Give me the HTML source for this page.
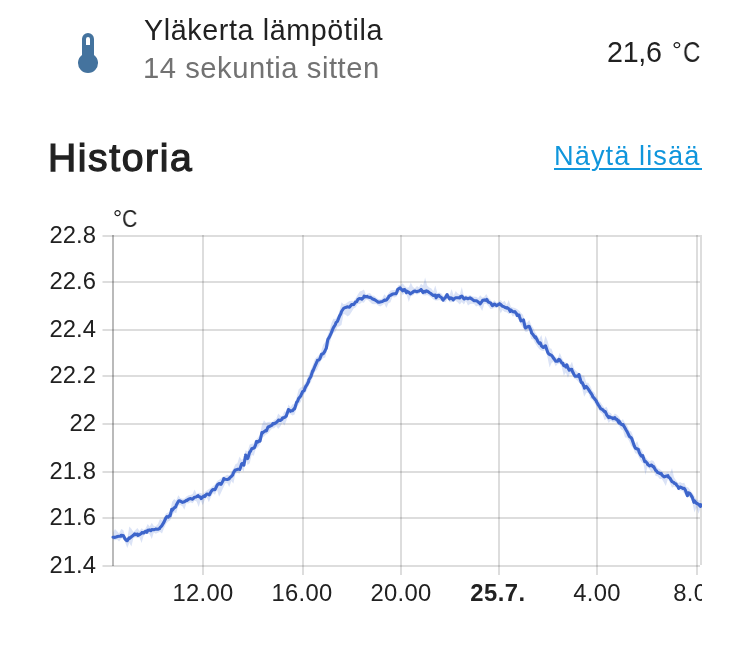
<!DOCTYPE html>
<html><head><meta charset="utf-8"><title>Historia</title>
<style>
html,body{margin:0;padding:0;background:#fff;}
body{width:749px;height:666px;position:relative;overflow:hidden;font-family:"Liberation Sans",sans-serif;color:#212121;}
.t{position:absolute;white-space:nowrap;line-height:1;will-change:transform;}
.name{left:143.6px;top:15.65px;font-size:28.7px;color:#212121;letter-spacing:0.61px;}
.sec{left:143.4px;top:54.0px;font-size:29.2px;color:#727272;letter-spacing:0.53px;}
.val{left:606.9px;top:37.9px;font-size:28.7px;color:#212121;letter-spacing:-0.28px;}
.vd{left:671.9px;top:38.0px;font-size:24.5px;color:#212121;}
.vc{left:682.8px;top:37.9px;font-size:28.7px;color:#212121;transform:scaleX(0.84);transform-origin:0 0;}
.title{left:48.0px;top:138.15px;font-size:39.1px;color:#212121;-webkit-text-stroke:1.25px #212121;letter-spacing:1.6px;}
.more{right:48.6px;top:141.9px;font-size:27.2px;color:#1096dc;letter-spacing:1.08px;text-decoration:underline;text-decoration-thickness:2px;text-underline-offset:2.7px;text-decoration-skip-ink:auto;}
.more i{position:absolute;top:26.2px;height:2px;width:3px;background:#1096dc;}
.more i.l{left:-2.6px}.more i.r{right:-1.6px}
.yl{font-size:23.8px;text-align:right;left:0;width:95.9px;letter-spacing:0px;}
.xl{font-size:23.8px;transform:translateX(-50%);top:580.6px;letter-spacing:0.25px;}
.ud{left:113.1px;top:207.1px;font-size:22.8px;}
.uc{left:122.0px;top:207.2px;font-size:23.8px;transform:scaleX(0.89);transform-origin:0 0;}
#clip{position:absolute;left:0;top:0;width:702px;height:666px;overflow:hidden;}
</style></head><body>

<svg width="48" height="48" viewBox="0 0 24 24" style="position:absolute;left:64px;top:29px"><path fill="#44739e" d="M15 13V5A3 3 0 0 0 9 5V13A5 5 0 1 0 15 13M12 4A1 1 0 0 1 13 5V8H11V5A1 1 0 0 1 12 4Z"/></svg>
<div class="t name">Yläkerta lämpötila</div>
<div class="t sec">14 sekuntia sitten</div>
<div class="t val">21,6</div><div class="t vd">°</div><div class="t vc">C</div>
<div class="t title">Historia</div>
<div class="t more">Näytä lisää<i class="r"></i></div>
<svg width="749" height="666" viewBox="0 0 749 666" style="position:absolute;left:0;top:0">
<defs><clipPath id="cv"><rect x="0" y="200" width="702" height="440"/></clipPath></defs>
<g clip-path="url(#cv)">
<rect x="102.5" y="235" width="597.5" height="2" fill="rgba(0,0,0,0.135)"/>
<rect x="102.5" y="281" width="597.5" height="2" fill="rgba(0,0,0,0.135)"/>
<rect x="102.5" y="329" width="597.5" height="2" fill="rgba(0,0,0,0.135)"/>
<rect x="102.5" y="375" width="597.5" height="2" fill="rgba(0,0,0,0.135)"/>
<rect x="102.5" y="423" width="597.5" height="2" fill="rgba(0,0,0,0.135)"/>
<rect x="102.5" y="471" width="597.5" height="2" fill="rgba(0,0,0,0.135)"/>
<rect x="102.5" y="517" width="597.5" height="2" fill="rgba(0,0,0,0.135)"/>
<rect x="102.5" y="565" width="597.5" height="2" fill="rgba(0,0,0,0.135)"/>
<rect x="202" y="235" width="2" height="340" fill="rgba(0,0,0,0.135)"/>
<rect x="302" y="235" width="2" height="340" fill="rgba(0,0,0,0.135)"/>
<rect x="400" y="235" width="2" height="340" fill="rgba(0,0,0,0.135)"/>
<rect x="498" y="235" width="2" height="340" fill="rgba(0,0,0,0.135)"/>
<rect x="596" y="235" width="2" height="340" fill="rgba(0,0,0,0.135)"/>
<rect x="696" y="235" width="2" height="340" fill="rgba(0,0,0,0.135)"/>
<rect x="700" y="235" width="2" height="330" fill="rgba(0,0,0,0.135)"/>
<rect x="112" y="235" width="2" height="331" fill="rgba(0,0,0,0.27)"/>
<path d="M113.0 532.5 L115.0 529.0 L117.1 531.2 L119.1 533.5 L121.2 529.1 L123.2 530.1 L125.2 535.8 L127.3 538.2 L129.3 526.6 L131.4 528.8 L133.4 532.1 L135.4 530.0 L137.5 527.9 L139.5 531.1 L141.6 528.3 L143.6 529.7 L145.6 528.4 L147.7 523.9 L149.7 526.6 L151.8 522.8 L153.8 525.9 L155.8 526.3 L157.9 524.0 L159.9 519.1 L162.0 520.1 L164.0 517.5 L166.0 513.5 L168.1 512.6 L170.1 511.5 L172.2 501.5 L174.2 499.1 L176.2 500.5 L178.3 495.3 L180.3 498.0 L182.4 498.7 L184.4 498.5 L186.4 496.4 L188.5 495.2 L190.5 494.9 L192.6 494.1 L194.6 489.6 L196.6 494.0 L198.7 492.7 L200.7 493.0 L202.8 494.1 L204.8 491.9 L206.8 490.5 L208.9 489.1 L210.9 488.1 L213.0 485.9 L215.0 484.6 L217.0 481.2 L219.1 479.8 L221.1 478.5 L223.2 476.5 L225.2 475.9 L227.2 474.7 L229.3 475.4 L231.3 472.1 L233.4 468.4 L235.4 464.3 L237.4 463.2 L239.5 456.5 L241.5 459.8 L243.6 458.7 L245.6 450.2 L247.6 451.4 L249.7 444.5 L251.7 443.7 L253.8 443.5 L255.8 439.7 L257.8 437.7 L259.9 435.3 L261.9 425.1 L264.0 420.3 L266.0 422.8 L268.0 422.1 L270.1 421.8 L272.1 422.0 L274.2 419.8 L276.2 419.0 L278.2 413.4 L280.3 415.7 L282.3 415.9 L284.4 411.3 L286.4 411.9 L288.4 404.4 L290.5 407.2 L292.5 404.2 L294.6 404.2 L296.6 397.5 L298.6 389.4 L300.7 387.5 L302.7 386.5 L304.8 383.4 L306.8 379.4 L308.8 374.5 L310.9 369.5 L312.9 364.8 L315.0 358.7 L317.0 356.9 L319.0 355.1 L321.1 351.5 L323.1 344.8 L325.2 342.1 L327.2 336.4 L329.2 331.2 L331.3 323.5 L333.3 318.7 L335.4 319.0 L337.4 316.4 L339.4 311.4 L341.5 302.2 L343.5 304.3 L345.6 303.8 L347.6 302.3 L349.6 300.9 L351.7 300.7 L353.7 301.1 L355.8 298.0 L357.8 294.4 L359.8 291.4 L361.9 290.7 L363.9 289.4 L366.0 294.4 L368.0 293.5 L370.0 293.1 L372.1 295.6 L374.1 295.8 L376.2 297.4 L378.2 299.0 L380.2 299.2 L382.3 298.5 L384.3 294.3 L386.4 296.5 L388.4 293.6 L390.4 290.4 L392.5 290.1 L394.5 290.1 L396.6 289.0 L398.6 285.1 L400.6 285.0 L402.7 283.3 L404.7 285.9 L406.8 287.7 L408.8 287.2 L410.8 282.4 L412.9 287.1 L414.9 288.2 L417.0 286.0 L419.0 287.6 L421.0 283.8 L423.1 285.6 L425.1 277.4 L427.2 285.4 L429.2 287.4 L431.2 288.3 L433.3 291.3 L435.3 285.6 L437.4 293.2 L439.4 292.4 L441.4 293.5 L443.5 295.9 L445.5 294.0 L447.6 293.3 L449.6 295.0 L451.6 289.0 L453.7 295.6 L455.7 291.0 L457.8 293.4 L459.8 294.6 L461.8 287.1 L463.9 296.1 L465.9 295.2 L468.0 296.0 L470.0 295.1 L472.0 296.2 L474.1 296.8 L476.1 296.8 L478.2 298.1 L480.2 295.3 L482.2 297.4 L484.3 296.8 L486.3 293.9 L488.4 297.8 L490.4 299.6 L492.4 302.2 L494.5 300.2 L496.5 302.5 L498.6 301.8 L500.6 299.9 L502.6 302.2 L504.7 300.7 L506.7 304.8 L508.8 300.1 L510.8 306.8 L512.8 307.4 L514.9 307.9 L516.9 309.0 L519.0 310.4 L521.0 313.0 L523.0 314.8 L525.1 322.5 L527.1 322.8 L529.2 320.1 L531.2 325.1 L533.2 327.8 L535.3 332.5 L537.3 335.5 L539.4 338.7 L541.4 335.1 L543.4 344.0 L545.5 335.8 L547.5 340.8 L549.6 348.3 L551.6 348.7 L553.6 354.7 L555.7 357.1 L557.7 358.3 L559.8 352.7 L561.8 357.8 L563.8 361.7 L565.9 362.6 L567.9 363.5 L570.0 365.5 L572.0 361.8 L574.0 368.7 L576.1 371.0 L578.1 372.5 L580.2 373.2 L582.2 375.5 L584.2 375.7 L586.3 382.8 L588.3 382.8 L590.4 386.3 L592.4 390.8 L594.4 392.6 L596.5 396.4 L598.5 400.6 L600.6 402.4 L602.6 405.6 L604.6 407.9 L606.7 406.7 L608.7 412.2 L610.8 413.0 L612.8 415.9 L614.8 413.6 L616.9 414.7 L618.9 416.7 L621.0 420.4 L623.0 419.2 L625.0 423.0 L627.1 425.2 L629.1 430.6 L631.2 431.4 L633.2 436.3 L635.2 443.6 L637.3 441.2 L639.3 447.5 L641.4 449.2 L643.4 453.4 L645.4 456.9 L647.5 459.4 L649.5 461.3 L651.6 460.3 L653.6 461.1 L655.6 464.7 L657.7 468.2 L659.7 468.9 L661.8 471.1 L663.8 473.1 L665.8 473.1 L667.9 472.3 L669.9 473.8 L672.0 468.0 L674.0 477.2 L676.0 480.2 L678.1 483.0 L680.1 482.1 L682.2 483.2 L684.2 482.7 L686.2 486.7 L688.3 487.6 L690.3 490.2 L692.4 493.1 L694.4 496.0 L696.4 499.2 L698.5 500.5 L700.5 500.0 L700.5 507.8 L698.5 513.8 L696.4 507.5 L694.4 512.5 L692.4 502.7 L690.3 497.8 L688.3 497.1 L686.2 496.0 L684.2 493.6 L682.2 490.8 L680.1 490.5 L678.1 490.1 L676.0 487.5 L674.0 486.4 L672.0 487.8 L669.9 482.7 L667.9 479.1 L665.8 485.9 L663.8 482.3 L661.8 479.1 L659.7 478.9 L657.7 476.2 L655.6 476.0 L653.6 470.6 L651.6 471.9 L649.5 469.5 L647.5 466.9 L645.4 474.9 L643.4 463.5 L641.4 461.7 L639.3 458.2 L637.3 454.0 L635.2 453.3 L633.2 448.0 L631.2 445.9 L629.1 440.9 L627.1 437.8 L625.0 437.4 L623.0 430.6 L621.0 429.2 L618.9 425.5 L616.9 423.3 L614.8 422.1 L612.8 422.2 L610.8 420.6 L608.7 423.0 L606.7 418.7 L604.6 420.3 L602.6 413.9 L600.6 412.6 L598.5 409.4 L596.5 406.2 L594.4 403.0 L592.4 400.1 L590.4 398.5 L588.3 393.0 L586.3 392.8 L584.2 396.8 L582.2 388.9 L580.2 383.5 L578.1 381.6 L576.1 379.6 L574.0 378.5 L572.0 374.2 L570.0 373.3 L567.9 377.8 L565.9 372.4 L563.8 375.8 L561.8 367.2 L559.8 363.6 L557.7 363.9 L555.7 366.3 L553.6 361.8 L551.6 362.7 L549.6 367.6 L547.5 357.6 L545.5 349.7 L543.4 351.0 L541.4 350.6 L539.4 349.2 L537.3 346.5 L535.3 343.5 L533.2 339.5 L531.2 339.1 L529.2 330.0 L527.1 332.1 L525.1 331.7 L523.0 327.6 L521.0 324.8 L519.0 320.4 L516.9 317.8 L514.9 314.9 L512.8 316.7 L510.8 313.3 L508.8 313.9 L506.7 312.3 L504.7 312.1 L502.6 309.9 L500.6 313.5 L498.6 307.0 L496.5 308.1 L494.5 307.8 L492.4 308.7 L490.4 308.9 L488.4 305.9 L486.3 303.8 L484.3 304.0 L482.2 310.9 L480.2 307.5 L478.2 305.4 L476.1 306.6 L474.1 304.1 L472.0 303.7 L470.0 304.0 L468.0 305.5 L465.9 301.1 L463.9 304.5 L461.8 302.1 L459.8 304.4 L457.8 302.6 L455.7 300.7 L453.7 301.5 L451.6 302.2 L449.6 302.3 L447.6 299.1 L445.5 302.2 L443.5 302.0 L441.4 301.0 L439.4 300.1 L437.4 300.4 L435.3 300.6 L433.3 299.4 L431.2 297.4 L429.2 296.0 L427.2 295.1 L425.1 295.5 L423.1 295.3 L421.0 292.0 L419.0 293.7 L417.0 294.4 L414.9 293.7 L412.9 295.6 L410.8 296.3 L408.8 302.1 L406.8 295.3 L404.7 293.0 L402.7 295.2 L400.6 290.9 L398.6 292.7 L396.6 296.4 L394.5 297.5 L392.5 297.1 L390.4 302.2 L388.4 303.3 L386.4 308.0 L384.3 303.8 L382.3 305.3 L380.2 306.6 L378.2 305.4 L376.2 304.0 L374.1 304.2 L372.1 304.1 L370.0 302.0 L368.0 299.9 L366.0 299.4 L363.9 302.8 L361.9 302.2 L359.8 303.9 L357.8 304.1 L355.8 307.3 L353.7 308.4 L351.7 311.7 L349.6 315.0 L347.6 316.4 L345.6 314.7 L343.5 314.1 L341.5 325.0 L339.4 326.2 L337.4 326.9 L335.4 331.7 L333.3 333.0 L331.3 338.1 L329.2 344.9 L327.2 349.2 L325.2 357.6 L323.1 358.2 L321.1 360.3 L319.0 365.0 L317.0 370.0 L315.0 371.4 L312.9 376.7 L310.9 382.2 L308.8 385.3 L306.8 390.6 L304.8 393.4 L302.7 396.5 L300.7 401.9 L298.6 404.5 L296.6 408.1 L294.6 414.5 L292.5 415.4 L290.5 414.3 L288.4 414.3 L286.4 420.7 L284.4 425.6 L282.3 422.7 L280.3 426.5 L278.2 429.1 L276.2 426.1 L274.2 428.2 L272.1 428.5 L270.1 430.7 L268.0 433.5 L266.0 434.5 L264.0 436.6 L261.9 437.8 L259.9 444.4 L257.8 447.6 L255.8 448.8 L253.8 455.8 L251.7 454.9 L249.7 463.2 L247.6 465.1 L245.6 459.2 L243.6 472.0 L241.5 468.3 L239.5 473.7 L237.4 472.8 L235.4 473.9 L233.4 483.4 L231.3 481.1 L229.3 487.1 L227.2 483.0 L225.2 483.4 L223.2 487.9 L221.1 492.5 L219.1 496.7 L217.0 489.8 L215.0 494.7 L213.0 493.2 L210.9 497.1 L208.9 502.2 L206.8 497.5 L204.8 499.8 L202.8 505.2 L200.7 500.5 L198.7 507.0 L196.6 501.4 L194.6 500.5 L192.6 503.2 L190.5 502.3 L188.5 503.6 L186.4 503.2 L184.4 509.7 L182.4 506.3 L180.3 505.0 L178.3 505.7 L176.2 513.3 L174.2 512.2 L172.2 515.4 L170.1 520.5 L168.1 521.6 L166.0 524.0 L164.0 528.3 L162.0 533.6 L159.9 531.8 L157.9 532.7 L155.8 533.8 L153.8 532.6 L151.8 539.1 L149.7 534.5 L147.7 533.2 L145.6 534.0 L143.6 536.1 L141.6 543.1 L139.5 537.5 L137.5 538.1 L135.4 537.3 L133.4 538.2 L131.4 546.6 L129.3 542.8 L127.3 548.1 L125.2 542.4 L123.2 538.8 L121.2 538.4 L119.1 541.4 L117.1 539.4 L115.0 540.3 L113.0 539.9 Z" fill="#4269d0" fill-opacity="0.19" stroke="none"/>
<path d="M113.0 537.3 L115.0 537.4 L117.0 536.7 L117.1 536.6 L119.1 536.2 L121.1 536.2 L121.2 535.4 L123.2 535.5 L123.5 535.9 L125.2 539.2 L126.7 540.7 L127.3 540.6 L129.1 537.8 L129.3 538.6 L131.4 536.8 L133.4 535.3 L134.7 533.9 L135.4 534.6 L137.5 534.1 L137.9 535.5 L139.5 534.6 L141.6 533.3 L141.9 532.6 L143.6 533.0 L145.6 531.3 L146.8 532.3 L147.7 530.3 L149.7 529.9 L150.8 530.7 L151.8 529.6 L153.8 529.7 L155.6 529.1 L155.8 529.0 L157.9 529.2 L159.6 528.6 L159.9 527.8 L162.0 525.6 L162.0 525.4 L164.0 522.1 L166.0 517.6 L166.8 516.6 L168.1 517.1 L170.1 515.0 L170.1 515.8 L171.7 509.4 L172.2 510.3 L174.2 507.8 L175.7 506.9 L176.2 505.3 L178.3 501.5 L178.9 500.8 L180.3 501.1 L182.1 502.1 L182.4 502.4 L184.4 501.7 L186.4 500.4 L186.9 500.5 L188.5 499.2 L190.5 498.6 L191.7 498.9 L192.6 499.2 L194.6 497.2 L195.8 497.0 L196.6 496.6 L198.2 495.7 L198.7 496.5 L200.7 497.2 L201.1 498.6 L202.8 496.9 L204.6 495.7 L204.8 496.5 L206.8 494.1 L208.9 494.3 L209.4 494.9 L210.9 491.9 L211.8 490.6 L213.0 489.5 L215.0 489.7 L215.0 489.6 L217.0 485.5 L217.4 484.8 L219.1 483.5 L221.0 484.4 L221.1 484.4 L223.2 480.4 L223.8 478.5 L225.2 479.3 L227.2 479.5 L229.3 478.7 L229.5 477.9 L231.3 476.6 L232.7 475.0 L233.4 472.8 L235.1 470.1 L235.4 470.2 L237.4 469.3 L239.5 468.9 L239.9 469.3 L241.5 464.2 L242.3 463.4 L243.6 463.8 L243.9 465.3 L245.5 455.7 L245.6 455.0 L247.6 458.5 L247.9 458.1 L249.7 452.1 L250.3 451.7 L251.7 448.8 L253.8 448.0 L254.4 447.7 L255.8 444.3 L256.4 441.5 L257.8 442.1 L259.9 440.1 L260.0 441.2 L261.9 432.5 L262.4 433.2 L264.0 431.7 L266.0 430.3 L266.4 430.8 L268.0 427.0 L268.8 426.8 L270.1 426.1 L272.1 425.1 L272.8 423.6 L274.2 423.8 L275.2 423.2 L276.2 422.6 L278.2 420.7 L278.5 420.0 L280.3 420.4 L282.3 418.9 L282.5 417.9 L284.4 417.4 L286.4 415.9 L286.5 415.2 L288.1 410.4 L288.4 409.5 L290.5 411.3 L291.3 410.7 L292.5 410.7 L294.5 408.3 L294.6 408.9 L296.6 402.3 L297.7 401.1 L298.6 398.5 L300.7 396.1 L300.9 395.4 L302.7 391.5 L304.2 390.6 L304.8 388.6 L306.0 386.0 L306.8 385.1 L308.7 381.2 L308.8 380.0 L310.9 376.5 L312.7 370.8 L312.9 371.1 L315.0 366.0 L317.0 361.7 L317.5 360.3 L319.0 359.9 L319.9 358.7 L321.1 355.7 L321.5 354.2 L323.1 353.8 L324.7 351.5 L325.2 350.4 L326.3 348.3 L327.2 342.9 L327.9 339.4 L329.2 337.4 L331.3 332.9 L331.9 331.4 L333.3 327.8 L335.4 324.5 L336.0 322.6 L337.4 321.3 L339.4 316.3 L340.8 313.7 L341.5 311.5 L343.5 308.5 L344.0 308.1 L345.6 307.4 L347.6 306.8 L348.0 307.0 L349.6 307.1 L351.7 304.6 L352.8 304.4 L353.7 304.6 L355.8 301.7 L356.8 301.7 L357.8 299.6 L359.3 298.5 L359.8 298.7 L361.7 298.5 L361.9 299.2 L363.9 297.2 L364.1 296.1 L366.0 296.9 L367.3 296.4 L368.0 296.9 L370.0 297.4 L370.5 297.3 L372.1 298.7 L374.1 299.5 L375.3 300.1 L376.2 300.8 L378.2 302.1 L379.3 302.2 L380.2 302.0 L382.3 301.6 L384.2 300.1 L384.3 300.6 L386.4 300.0 L388.4 297.5 L389.0 296.1 L390.4 295.4 L392.5 294.1 L393.0 294.1 L394.5 293.8 L395.9 293.7 L396.6 292.8 L397.8 289.3 L398.6 288.8 L400.2 287.9 L400.6 288.4 L402.7 290.8 L403.4 289.7 L404.7 289.6 L406.5 292.7 L406.8 291.2 L408.1 291.9 L408.8 292.2 L410.2 293.8 L410.8 293.5 L412.9 292.1 L413.7 291.3 L414.9 291.1 L417.0 291.7 L417.7 291.3 L419.0 291.0 L420.9 289.7 L421.0 289.5 L423.1 292.5 L424.1 291.3 L425.1 292.0 L426.5 290.8 L427.2 291.1 L429.2 292.5 L431.2 293.8 L431.3 294.1 L433.3 295.5 L435.3 295.1 L436.1 297.8 L437.4 295.6 L439.0 295.3 L439.4 296.2 L441.4 297.5 L443.1 300.2 L443.5 299.3 L445.5 297.4 L447.1 294.5 L447.6 295.9 L449.6 299.0 L449.8 297.8 L451.6 298.1 L453.3 299.8 L453.7 299.0 L455.7 297.7 L456.2 297.8 L457.8 297.8 L459.8 297.9 L460.2 296.9 L461.8 296.0 L463.9 298.9 L464.3 298.9 L465.9 297.8 L468.0 298.8 L468.3 298.6 L470.0 297.9 L472.0 299.1 L472.3 299.4 L474.1 300.8 L476.1 300.8 L477.1 301.0 L478.2 302.1 L480.0 303.4 L480.2 303.8 L482.2 301.1 L482.7 300.2 L484.3 299.9 L486.3 300.6 L486.7 299.4 L488.4 302.1 L490.4 302.9 L490.8 303.1 L492.4 305.7 L494.5 304.0 L494.8 304.2 L496.5 305.6 L497.2 305.3 L498.6 304.4 L499.6 303.7 L500.6 304.5 L502.6 306.3 L504.4 306.9 L504.7 307.3 L506.7 308.1 L507.0 307.6 L508.8 308.7 L510.3 311.4 L510.8 310.0 L512.8 311.6 L514.6 311.9 L514.9 311.6 L516.9 314.2 L517.1 315.5 L519.0 315.0 L519.5 316.7 L521.0 320.9 L521.1 320.7 L523.0 320.8 L523.5 319.9 L525.1 327.3 L525.6 327.9 L527.1 327.0 L529.1 326.3 L529.2 326.4 L531.2 331.1 L531.5 332.8 L533.2 334.8 L535.3 337.9 L535.5 336.8 L537.3 340.2 L537.9 341.6 L539.4 343.5 L540.3 342.9 L541.4 345.9 L542.8 347.2 L543.4 347.5 L545.5 345.8 L546.0 347.2 L547.5 351.8 L548.4 353.6 L549.6 354.5 L551.6 355.4 L552.4 356.4 L553.6 358.3 L555.6 360.9 L555.7 361.2 L557.7 361.1 L558.8 359.3 L559.8 359.9 L561.8 363.0 L562.8 363.3 L563.8 365.7 L565.2 365.7 L565.9 366.9 L566.8 364.9 L567.9 367.7 L569.3 370.2 L570.0 369.5 L571.7 369.2 L572.0 370.5 L574.0 374.5 L574.9 376.1 L576.1 376.3 L577.3 376.1 L578.1 376.4 L578.9 374.5 L580.2 379.0 L581.3 382.6 L582.2 382.5 L584.2 386.9 L584.5 388.2 L586.3 386.5 L587.7 388.2 L588.3 389.2 L590.4 392.4 L590.9 393.0 L592.4 395.6 L592.6 396.4 L594.4 398.5 L596.4 401.1 L596.5 401.8 L598.5 405.1 L599.6 406.7 L600.6 408.6 L602.6 409.6 L604.6 411.8 L605.3 411.5 L606.7 414.8 L608.7 417.7 L609.3 416.8 L610.8 417.4 L612.5 417.9 L612.8 418.7 L614.8 417.6 L615.7 419.1 L616.9 419.2 L618.9 422.8 L618.9 420.9 L621.0 424.2 L622.9 425.2 L623.0 424.5 L625.0 428.1 L626.1 430.0 L627.1 431.6 L629.1 435.7 L629.4 436.4 L631.2 437.7 L631.8 438.8 L633.2 442.8 L634.2 445.7 L635.2 448.0 L637.3 449.0 L638.2 449.3 L639.3 452.5 L640.6 454.9 L641.4 456.1 L642.7 455.7 L643.4 457.9 L644.8 461.6 L645.4 461.3 L647.5 463.5 L647.5 464.2 L649.5 465.9 L650.0 465.6 L651.6 465.1 L653.0 466.7 L653.6 466.6 L655.6 470.3 L656.5 470.8 L657.7 472.6 L659.1 473.0 L659.7 473.4 L661.3 473.6 L661.8 474.8 L663.8 476.7 L664.3 476.9 L665.8 476.3 L667.9 475.7 L668.5 477.2 L669.9 478.0 L671.6 481.0 L672.0 481.7 L674.0 482.7 L674.3 483.3 L676.0 483.9 L676.5 485.0 L678.1 486.7 L678.6 488.4 L680.1 487.0 L682.2 487.9 L682.6 488.5 L684.2 488.4 L685.4 490.2 L686.2 492.4 L687.4 495.7 L688.3 492.8 L689.5 493.2 L690.3 494.0 L691.7 496.4 L692.4 497.6 L693.9 502.3 L694.4 500.8 L696.4 503.2 L697.6 503.7 L698.5 504.3 L700.5 506.3 L700.5 504.6" fill="none" stroke="#3d65cb" stroke-width="3.1" stroke-linejoin="round" stroke-linecap="round"/>
</g></svg>
<div id="clip">
<div class="t ud">°</div><div class="t uc">C</div>
<div class="t yl" style="top:222.8px">22.8</div>
<div class="t yl" style="top:268.8px">22.6</div>
<div class="t yl" style="top:316.8px">22.4</div>
<div class="t yl" style="top:362.8px">22.2</div>
<div class="t yl" style="top:410.8px">22</div>
<div class="t yl" style="top:458.8px">21.8</div>
<div class="t yl" style="top:504.8px">21.6</div>
<div class="t yl" style="top:552.8px">21.4</div>
<div class="t xl" style="left:203.4px;">12.00</div>
<div class="t xl" style="left:302.2px;">16.00</div>
<div class="t xl" style="left:400.6px;">20.00</div>
<div class="t xl" style="left:498.4px;font-weight:bold;letter-spacing:0.5px;">25.7.</div>
<div class="t xl" style="left:597.1px;">4.00</div>
<div class="t xl" style="left:697.0px;">8.00</div>
</div>
</body></html>
